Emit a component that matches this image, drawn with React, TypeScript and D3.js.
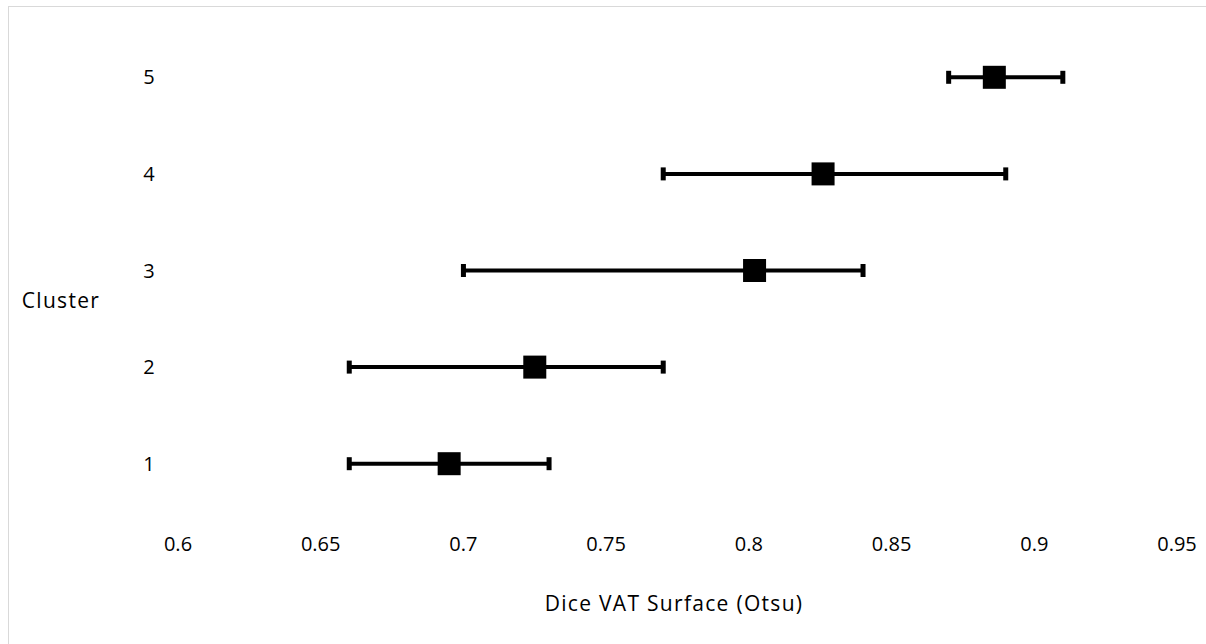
import * as d3 from "d3";
import { useEffect, useRef } from "react";

const clusters = ["1", "2", "3", "4", "5"];
const means = [0.695, 0.725, 0.802, 0.826, 0.886];
const lows = [0.66, 0.66, 0.7, 0.77, 0.87];
const highs = [0.73, 0.77, 0.84, 0.89, 0.91];
const xTicks = [0.6, 0.65, 0.7, 0.75, 0.8, 0.85, 0.9, 0.95];

const W = 1206;
const H = 644;
const FONT = "'Open Sans', Calibri, sans-serif";

const App = () => {
  const ref = useRef<SVGSVGElement | null>(null);

  useEffect(() => {
    const svg = d3.select(ref.current);
    svg.selectAll("*").remove();

    // outer chart frame (only top/left visible in the crop)
    svg.append("rect")
      .attr("x", 8.5).attr("y", 6.5)
      .attr("width", W + 20).attr("height", H + 20)
      .attr("fill", "white").attr("stroke", "#d9d9d9").attr("stroke-width", 1);

    const x = d3.scaleLinear().domain([0.6, 0.95]).range([178, 1177]);
    const y = d3.scaleBand<string>()
      .domain(clusters.slice().reverse())
      .range([29, 512]);
    const cy = (c: string) => (y(c) as number) + y.bandwidth() / 2;

    const rows = clusters.map((c, i) => ({ c, m: means[i], lo: lows[i], hi: highs[i] }));

    // x tick labels
    svg.append("g")
      .attr("font-family", FONT).attr("font-size", 20).attr("fill", "#000")
      .attr("text-anchor", "middle")
      .selectAll("text").data(xTicks).enter().append("text")
      .attr("x", d => x(d)).attr("y", 551)
      .text(d => String(d));

    // y tick labels
    svg.append("g")
      .attr("font-family", FONT).attr("font-size", 20).attr("fill", "#000")
      .attr("text-anchor", "middle")
      .selectAll("text").data(clusters).enter().append("text")
      .attr("x", 149).attr("y", d => cy(d) + 7)
      .text(d => d);

    // axis titles
    svg.append("text")
      .attr("x", 61).attr("y", 308)
      .attr("text-anchor", "middle")
      .attr("font-family", FONT).attr("font-size", 21)
      .attr("letter-spacing", 1.3)
      .text("Cluster");
    svg.append("text")
      .attr("x", 674).attr("y", 611)
      .attr("text-anchor", "middle")
      .attr("font-family", FONT).attr("font-size", 21)
      .attr("letter-spacing", 1.3)
      .text("Dice VAT Surface (Otsu)");

    const g = svg.append("g");
    const row = g.selectAll("g.row").data(rows).enter().append("g").attr("class", "row");

    row.append("line")
      .attr("x1", d => x(d.lo)).attr("x2", d => x(d.hi))
      .attr("y1", d => cy(d.c)).attr("y2", d => cy(d.c))
      .attr("stroke", "#000").attr("stroke-width", 4);
    row.append("rect")
      .attr("x", d => x(d.lo) - 2.5).attr("y", d => cy(d.c) - 6.5)
      .attr("width", 5).attr("height", 13).attr("fill", "#000");
    row.append("rect")
      .attr("x", d => x(d.hi) - 2.5).attr("y", d => cy(d.c) - 6.5)
      .attr("width", 5).attr("height", 13).attr("fill", "#000");
    row.append("rect")
      .attr("x", d => x(d.m) - 11.5).attr("y", d => cy(d.c) - 11.5)
      .attr("width", 23).attr("height", 23).attr("fill", "#000");
  }, []);

  return (
    <svg
      ref={ref}
      width={W}
      height={H}
      style={{ position: "absolute", left: 0, top: 0, background: "white" }}
    />
  );
};

export default App;
